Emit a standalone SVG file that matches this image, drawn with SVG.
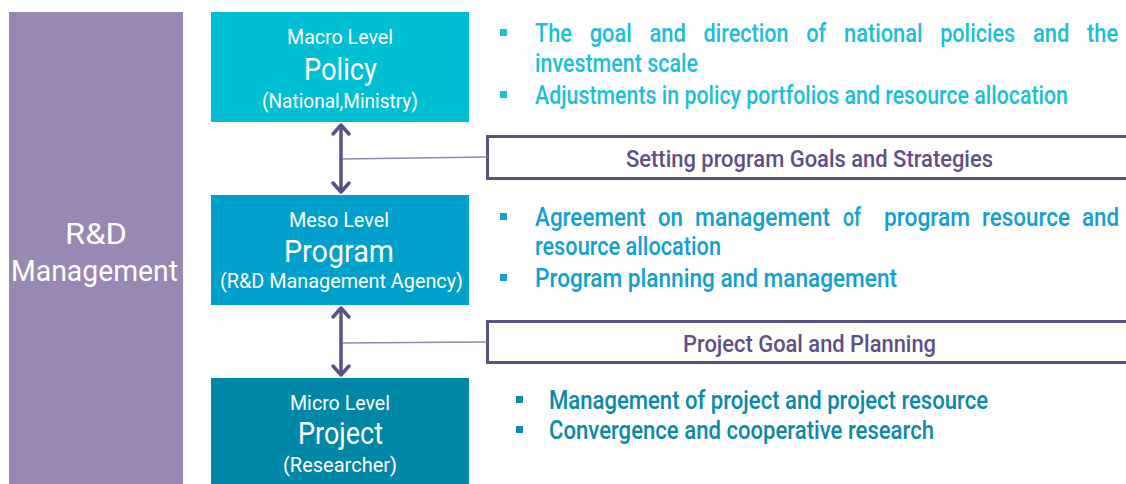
<svg xmlns="http://www.w3.org/2000/svg" width="1126" height="484" viewBox="0 0 1126 484">
<style>
  text { font-family: Roboto, "Liberation Sans", sans-serif; }
  .w { fill: #ffffff; }
  .lv { font-size: 21px; }
  .big { font-size: 31px; }
  .macro { fill: #1cbfd7; font-size: 25px; font-weight: 500; }
  .meso { fill: #139fd0; font-size: 25px; font-weight: 500; }
  .micro { fill: #0a8aa8; font-size: 25px; font-weight: 500; }
  .lbl { fill: #5e4f87; font-size: 24px; font-weight: 500; }
  .lblbox { fill: #ffffff; stroke: #5e4f87; stroke-width: 3; }
  .shaft { stroke: #5e4f87; stroke-width: 3.5; fill: none; }
  .head { stroke: #5e4f87; stroke-width: 3.5; fill: none; stroke-linecap: round; stroke-linejoin: round; }
  .thin { stroke: #8f86b2; stroke-width: 1.5; fill: none; }
</style>

<g id="rd-management">
  <rect x="9" y="12" width="174" height="472" fill="#9888b3"/>
  <text class="w" x="65" y="244" font-size="29" textLength="62" lengthAdjust="spacingAndGlyphs">R&amp;D</text>
  <text class="w" x="11" y="281" font-size="29" textLength="167" lengthAdjust="spacingAndGlyphs">Management</text>
</g>

<g id="macro">
  <rect x="211" y="12" width="258" height="110" fill="#00bed4"/>
  <text class="w lv" x="287" y="44" textLength="106" lengthAdjust="spacingAndGlyphs">Macro Level</text>
  <text class="w big" x="304" y="80" textLength="73" lengthAdjust="spacingAndGlyphs">Policy</text>
  <text class="w lv" x="262" y="108" textLength="156" lengthAdjust="spacingAndGlyphs">(National,Ministry)</text>
</g>

<g id="meso">
  <rect x="211" y="195" width="258" height="110" fill="#00a0cc"/>
  <text class="w lv" x="289" y="227" textLength="100" lengthAdjust="spacingAndGlyphs">Meso Level</text>
  <text class="w big" x="284" y="262" textLength="110" lengthAdjust="spacingAndGlyphs">Program</text>
  <text class="w lv" x="220" y="288" textLength="243" lengthAdjust="spacingAndGlyphs">(R&amp;D Management Agency)</text>
</g>

<g id="micro">
  <rect x="211" y="378" width="258" height="106" fill="#0087a7"/>
  <text class="w lv" x="290" y="410" textLength="100" lengthAdjust="spacingAndGlyphs">Micro Level</text>
  <text class="w big" x="298" y="444" textLength="85" lengthAdjust="spacingAndGlyphs">Project</text>
  <text class="w lv" x="283" y="472" textLength="114" lengthAdjust="spacingAndGlyphs">(Researcher)</text>
</g>

<g id="macro-bullets">
  <rect x="500" y="29" width="7" height="7" fill="#1cbfd7"/>
  <text class="macro" x="535" y="42" textLength="37" lengthAdjust="spacingAndGlyphs">The</text>
  <text class="macro" x="589.7" y="42" textLength="42" lengthAdjust="spacingAndGlyphs">goal</text>
  <text class="macro" x="649.4" y="42" textLength="36.5" lengthAdjust="spacingAndGlyphs">and</text>
  <text class="macro" x="703.6" y="42" textLength="85" lengthAdjust="spacingAndGlyphs">direction</text>
  <text class="macro" x="806.3" y="42" textLength="20" lengthAdjust="spacingAndGlyphs">of</text>
  <text class="macro" x="844" y="42" textLength="78.5" lengthAdjust="spacingAndGlyphs">national</text>
  <text class="macro" x="940.2" y="42" textLength="75" lengthAdjust="spacingAndGlyphs">policies</text>
  <text class="macro" x="1032.9" y="42" textLength="36.5" lengthAdjust="spacingAndGlyphs">and</text>
  <text class="macro" x="1087.1" y="42" textLength="31" lengthAdjust="spacingAndGlyphs">the</text>
  <text class="macro" x="535" y="72" textLength="163" lengthAdjust="spacingAndGlyphs">investment scale</text>
  <rect x="500" y="91" width="7" height="7" fill="#1cbfd7"/>
  <text class="macro" x="535" y="104" font-size="23" textLength="533" lengthAdjust="spacingAndGlyphs">Adjustments in policy portfolios and resource allocation</text>
</g>

<g id="meso-bullets">
  <rect x="500" y="213" width="7" height="7" fill="#139fd0"/>
  <text class="meso" x="535" y="226" textLength="111" lengthAdjust="spacingAndGlyphs">Agreement</text>
  <text class="meso" x="658" y="226" textLength="25" lengthAdjust="spacingAndGlyphs">on</text>
  <text class="meso" x="695" y="226" textLength="135" lengthAdjust="spacingAndGlyphs">management</text>
  <text class="meso" x="843" y="226" textLength="18" lengthAdjust="spacingAndGlyphs">of</text>
  <text class="meso" x="884" y="226" textLength="86" lengthAdjust="spacingAndGlyphs">program</text>
  <text class="meso" x="982" y="226" textLength="88" lengthAdjust="spacingAndGlyphs">resource</text>
  <text class="meso" x="1082" y="226" textLength="37" lengthAdjust="spacingAndGlyphs">and</text>
  <text class="meso" x="535" y="255" textLength="186" lengthAdjust="spacingAndGlyphs">resource allocation</text>
  <rect x="500" y="274" width="7" height="7" fill="#139fd0"/>
  <text class="meso" x="535" y="287" textLength="362" lengthAdjust="spacingAndGlyphs">Program planning and management</text>
</g>

<g id="micro-bullets">
  <rect x="516" y="396" width="7" height="7" fill="#0a8aa8"/>
  <text class="micro" x="549" y="409" textLength="439" lengthAdjust="spacingAndGlyphs">Management of project and project resource</text>
  <rect x="516" y="426" width="7" height="7" fill="#0a8aa8"/>
  <text class="micro" x="549" y="439" textLength="385" lengthAdjust="spacingAndGlyphs">Convergence and cooperative research</text>
</g>

<g id="label-goals">
  <rect class="lblbox" x="487.5" y="136.5" width="650" height="42"/>
  <text class="lbl" x="626" y="167" textLength="367" lengthAdjust="spacingAndGlyphs">Setting program Goals and Strategies</text>
</g>

<g id="label-planning">
  <rect class="lblbox" x="487.5" y="321.5" width="650" height="41"/>
  <text class="lbl" x="683" y="352" textLength="253" lengthAdjust="spacingAndGlyphs">Project Goal and Planning</text>
</g>

<g id="connectors">
  <line class="thin" x1="341" y1="159" x2="487" y2="157"/>
  <line class="thin" x1="341" y1="343" x2="487" y2="342"/>
  <line class="shaft" x1="341" y1="126" x2="341" y2="191"/>
  <polyline class="head" points="333,134 341,125 349,134"/>
  <polyline class="head" points="333,183 341,192 349,183"/>
  <line class="shaft" x1="341" y1="309" x2="341" y2="374"/>
  <polyline class="head" points="333,317 341,308 349,317"/>
  <polyline class="head" points="333,366 341,375 349,366"/>
</g>
</svg>
